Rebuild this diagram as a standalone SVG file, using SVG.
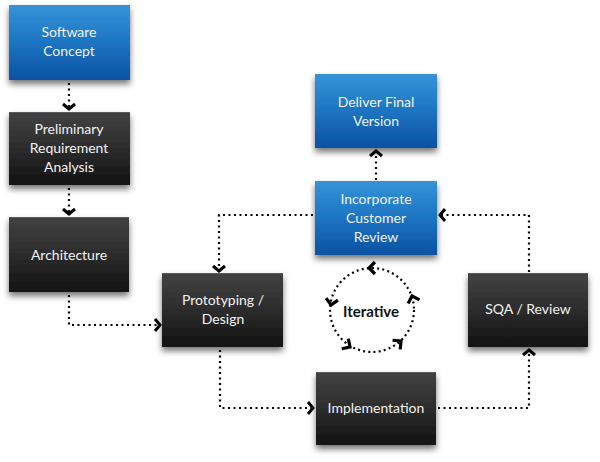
<svg xmlns="http://www.w3.org/2000/svg" width="600" height="462" viewBox="0 0 600 462">
<defs>
<linearGradient id="gBlue" x1="0" y1="0" x2="0" y2="1">
<stop offset="0" stop-color="#3594d8"/>
<stop offset="0.5" stop-color="#1c74c2"/>
<stop offset="1" stop-color="#0a52a2"/>
</linearGradient>
<linearGradient id="gDark" x1="0" y1="0" x2="0" y2="1">
<stop offset="0" stop-color="#424242"/>
<stop offset="0.5" stop-color="#2c2c2c"/>
<stop offset="1" stop-color="#121212"/>
</linearGradient>
<filter id="sh" x="-10%" y="-10%" width="120%" height="130%">
<feDropShadow dx="0" dy="4" stdDeviation="3" flood-color="#000" flood-opacity="0.55"/>
</filter>
<marker id="chev" markerUnits="userSpaceOnUse" markerWidth="16" markerHeight="16" viewBox="-8 -8 16 16" refX="0" refY="0" orient="auto">
<path d="M-5,-6 L0,0 L-5,6" fill="none" stroke="#000" stroke-width="3" stroke-linejoin="miter"/>
</marker>
<path id="rh" d="M-6,-6 L0,0 L-6,6" fill="none" stroke="#000" stroke-width="3.2"/>
<style>
.box{filter:url(#sh);}
.blue{fill:url(#gBlue);}
.dark{fill:url(#gDark);}
.edge{fill:none;stroke:#5a5a5a;stroke-width:1;}
.t{font-family:Lato,"Liberation Sans",sans-serif;font-size:14px;fill:#f2f2f2;text-anchor:middle;}
.it{font-family:Lato,"Liberation Sans",sans-serif;font-size:15px;font-weight:bold;fill:#111;text-anchor:middle;}
.c{fill:none;stroke:#000;stroke-width:2.2;stroke-dasharray:2 3.5;marker-end:url(#chev);}
.ring{fill:none;stroke:#000;stroke-width:2.2;stroke-dasharray:2 3.2;}
</style>
</defs>
<rect width="600" height="462" fill="#fff"/>

<g id="connectors">
<path class="c" d="M69,83 V109"/>
<path class="c" d="M69,188 V214"/>
<path class="c" d="M69,295 V325 H160"/>
<path class="c" d="M220,350 V408 H313"/>
<path class="c" d="M438,408 H529 V350"/>
<path class="c" d="M529,272 V215 H440"/>
<path class="c" d="M313,215 H219 V271"/>
<path class="c" d="M376,180 V151"/>
</g>

<g id="software-concept">
<rect class="box blue" x="9" y="5" width="121" height="75"/>
<text class="t" x="69" y="37">Software</text>
<text class="t" x="69" y="56">Concept</text>
</g>

<g id="preliminary-requirement-analysis">
<rect class="box dark" x="9" y="112" width="121" height="73"/>
<line class="edge" x1="9" y1="112.5" x2="130" y2="112.5"/>
<text class="t" x="69" y="134">Preliminary</text>
<text class="t" x="69" y="153">Requirement</text>
<text class="t" x="69" y="172">Analysis</text>
</g>

<g id="architecture">
<rect class="box dark" x="9" y="217" width="120" height="75"/>
<line class="edge" x1="9" y1="217.5" x2="129" y2="217.5"/>
<text class="t" x="69" y="260">Architecture</text>
</g>

<g id="prototyping-design">
<rect class="box dark" x="162" y="273" width="121" height="74"/>
<line class="edge" x1="162" y1="273.5" x2="283" y2="273.5"/>
<text class="t" x="223" y="305">Prototyping /</text>
<text class="t" x="223" y="324">Design</text>
</g>

<g id="implementation">
<rect class="box dark" x="316" y="372" width="120" height="73"/>
<line class="edge" x1="316" y1="372.5" x2="436" y2="372.5"/>
<text class="t" x="376" y="413">Implementation</text>
</g>

<g id="sqa-review">
<rect class="box dark" x="468" y="273" width="120" height="74"/>
<line class="edge" x1="468" y1="273.5" x2="588" y2="273.5"/>
<text class="t" x="528" y="314">SQA / Review</text>
</g>

<g id="incorporate-customer-review">
<rect class="box blue" x="315" y="181" width="122" height="74"/>
<text class="t" x="376" y="204">Incorporate</text>
<text class="t" x="376" y="223">Customer</text>
<text class="t" x="376" y="242">Review</text>
</g>

<g id="deliver-final-version">
<rect class="box blue" x="315" y="74" width="122" height="74"/>
<text class="t" x="376" y="107">Deliver Final</text>
<text class="t" x="376" y="126">Version</text>
</g>

<g id="iterative">
<circle class="ring" cx="372" cy="310" r="42"/>
<use href="#rh" transform="translate(369,268) rotate(180)"/>
<use href="#rh" transform="translate(412,296) rotate(-108)"/>
<use href="#rh" transform="translate(331,305) rotate(100)"/>
<use href="#rh" transform="translate(350,347) rotate(33)"/>
<use href="#rh" transform="translate(401,341) rotate(-40)"/>
<text class="it" x="371" y="317">Iterative</text>
</g>
</svg>
